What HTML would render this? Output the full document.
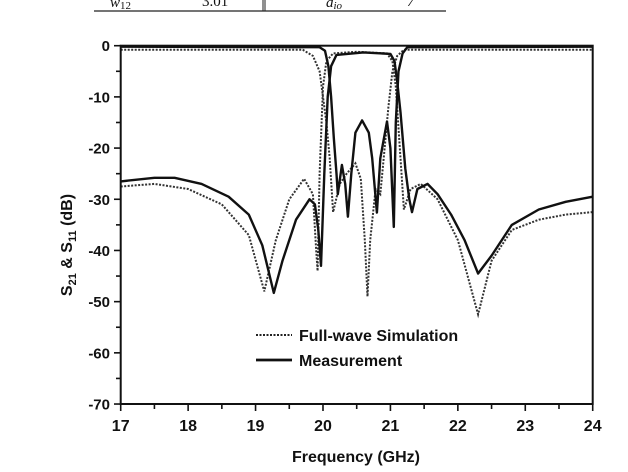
<!DOCTYPE html>
<html><head><meta charset="utf-8"><style>
html,body{margin:0;padding:0;background:#fff;width:628px;height:472px;overflow:hidden}
svg{display:block}
text{font-family:"Liberation Sans",Arial,sans-serif;font-weight:bold;fill:#111}
</style></head><body>
<svg id="s" width="628" height="472" viewBox="0 0 628 472" xmlns="http://www.w3.org/2000/svg">
<line x1="94" y1="11" x2="446" y2="11" stroke="#222" stroke-width="1.2"/>
<line x1="263" y1="0" x2="263" y2="11" stroke="#222" stroke-width="1"/>
<line x1="265" y1="0" x2="265" y2="11" stroke="#222" stroke-width="1"/>
<text x="110" y="7" style="font-family:'Liberation Serif',serif;font-weight:normal;font-style:italic;font-size:15px">w<tspan font-size="11" font-style="normal" dy="2">12</tspan></text>
<text x="202" y="6" style="font-family:'Liberation Serif',serif;font-weight:normal;font-size:15px">3.01</text>
<text x="326" y="7" style="font-family:'Liberation Serif',serif;font-weight:normal;font-style:italic;font-size:15px">d<tspan font-size="11" dy="2">io</tspan></text>
<text x="407" y="6" style="font-family:'Liberation Serif',serif;font-weight:normal;font-style:italic;font-size:15px">7</text>
<defs><clipPath id="c"><rect x="120.7" y="45.7" width="472" height="358.3"/></clipPath></defs>
<g id="curves" clip-path="url(#c)"></g>
<g id="axes"></g>
<text x="356" y="462" text-anchor="middle" font-size="16">Frequency (GHz)</text>
<text transform="translate(72,245) rotate(-90)" text-anchor="middle" font-size="16">S<tspan font-size="11" dy="4">21</tspan><tspan dy="-4"> &amp; S</tspan><tspan font-size="11" dy="4">11</tspan><tspan dy="-4"> (dB)</tspan></text>
<line x1="256" y1="335" x2="292" y2="335" stroke="#222" stroke-width="2" stroke-dasharray="2,1.5"/>
<text x="299" y="341" font-size="16">Full-wave Simulation</text>
<line x1="256" y1="360" x2="292" y2="360" stroke="#111" stroke-width="2.8"/>
<text x="299" y="366" font-size="16">Measurement</text>
</svg>
<script>
var X=function(f){return 120.7+(f-17)*67.43},Y=function(d){return 45.7-d*5.119};
function P(a){var s='';for(var i=0;i<a.length;i++)s+=(i?'L':'M')+X(a[i][0]).toFixed(1)+','+Y(a[i][1]).toFixed(1);return s}
var mS21=[[17,-26.5],[17.5,-25.8],[17.8,-25.8],[18.2,-27],[18.6,-29.5],[18.9,-33],[19.1,-39],[19.27,-48.3],[19.4,-42],[19.6,-34],[19.8,-30],[19.88,-31],[19.93,-36],[19.97,-43],[20.02,-25],[20.07,-10],[20.12,-4],[20.2,-1.8],[20.6,-1.3],[21.0,-1.6],[21.06,-3],[21.1,-7],[21.15,-13],[21.22,-24],[21.28,-30],[21.32,-32.5],[21.4,-28],[21.55,-27],[21.7,-29],[21.9,-33],[22.1,-38],[22.3,-44.5],[22.5,-41],[22.8,-35],[23.2,-32],[23.6,-30.5],[24,-29.5]];
var mS11=[[17,-0.2],[19.95,-0.3],[20.03,-1],[20.08,-4],[20.12,-10],[20.16,-18],[20.2,-25],[20.22,-29],[20.28,-23.3],[20.33,-27],[20.37,-33.4],[20.42,-25],[20.48,-17],[20.58,-14.6],[20.68,-17],[20.73,-22],[20.8,-32.6],[20.85,-22],[20.95,-14.8],[21.0,-20],[21.05,-35.4],[21.08,-15],[21.12,-5],[21.18,-1.5],[21.25,-0.3],[24,-0.2]];
var sS21=[[17,-27.5],[17.5,-27],[18,-28],[18.5,-31],[18.9,-37],[19.13,-48],[19.3,-38],[19.5,-30],[19.72,-26],[19.85,-29],[19.9,-40],[19.92,-44],[19.95,-25],[20.0,-8],[20.05,-3],[20.15,-1.5],[20.5,-1.2],[20.95,-1.5],[21.03,-3],[21.08,-8],[21.15,-22],[21.2,-32],[21.3,-28],[21.45,-27],[21.7,-30],[22,-38],[22.3,-52.5],[22.5,-42],[22.8,-36],[23.2,-34],[23.6,-33],[24,-32.5]];
var sS11=[[17,-0.8],[19.7,-0.8],[19.85,-2],[19.95,-5],[20.05,-15],[20.1,-22],[20.15,-32.5],[20.25,-27],[20.35,-25],[20.48,-23],[20.56,-26],[20.62,-38],[20.66,-49],[20.7,-38],[20.78,-28],[20.85,-29],[20.9,-22],[20.97,-12],[21.03,-5],[21.1,-2],[21.2,-0.8],[24,-0.8]];
var g='';
g+='<path d="'+P(sS21)+'" fill="none" stroke="#333" stroke-width="2" stroke-dasharray="2,1.5"/>';
g+='<path d="'+P(sS11)+'" fill="none" stroke="#333" stroke-width="2" stroke-dasharray="2,1.5"/>';
g+='<path d="'+P(mS21)+'" fill="none" stroke="#111" stroke-width="2.4" stroke-linejoin="round"/>';
g+='<path d="'+P(mS11)+'" fill="none" stroke="#111" stroke-width="2.4" stroke-linejoin="round"/>';
document.getElementById('curves').innerHTML=g;
var a='<rect x="120.7" y="45.7" width="472" height="358.3" fill="none" stroke="#111" stroke-width="2"/>';
for(var d=0;d>=-70;d-=5){var y=Y(d);a+='<line x1="'+(d%10?116:114)+'" y1="'+y+'" x2="120.7" y2="'+y+'" stroke="#111" stroke-width="1.6"/>';
 if(d%10==0)a+='<text x="110" y="'+(y+5.5)+'" text-anchor="end" font-size="15">'+d+'</text>';}
for(var f=17;f<=24;f+=0.5){var x=X(f);a+='<line x1="'+x+'" y1="404" x2="'+x+'" y2="'+(f%1?409:411)+'" stroke="#111" stroke-width="1.6"/>';
 if(f%1==0)a+='<text x="'+x+'" y="431" text-anchor="middle" font-size="16">'+f+'</text>';}
document.getElementById('axes').innerHTML=a;
</script>
</body></html>
